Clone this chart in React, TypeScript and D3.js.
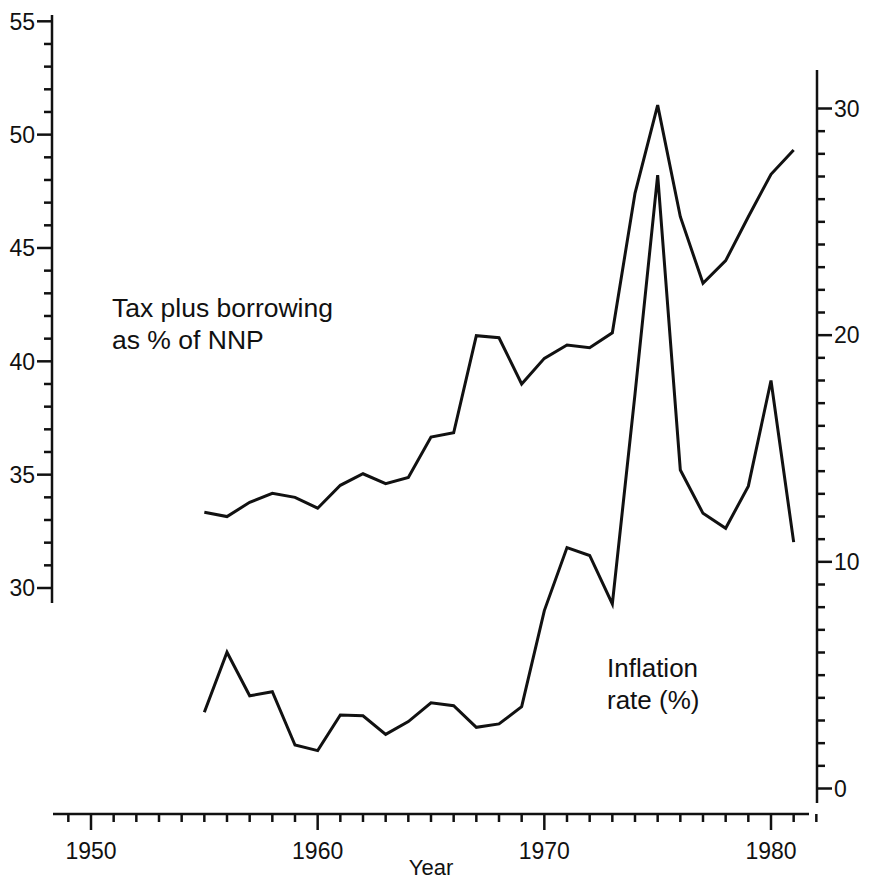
import React from "react";
import * as d3 from "d3";

const years = [1955,1956,1957,1958,1959,1960,1961,1962,1963,1964,1965,1966,1967,1968,1969,1970,1971,1972,1973,1974,1975,1976,1977,1978,1979,1980,1981];
const taxBorrowing = [33.34,33.15,33.78,34.18,34.0,33.52,34.53,35.04,34.6,34.88,36.66,36.85,41.13,41.04,39.0,40.13,40.72,40.6,41.26,47.41,51.3,46.38,43.44,44.44,46.38,48.25,49.32];
const inflation = [3.36,6.01,4.09,4.27,1.92,1.67,3.24,3.21,2.39,2.95,3.78,3.65,2.7,2.85,3.61,7.85,10.63,10.28,8.14,17.4,27.06,14.05,12.14,11.48,13.34,18.0,10.87];
const yearTicks = [1950,1960,1970,1980];
const leftTicks = [30,35,40,45,50,55];
const rightTicks = [0,10,20,30];
const annotationTax = ["Tax plus borrowing", "as % of NNP"];
const annotationInfl = ["Inflation", "rate (%)"];
const xTitle = "Year";

const W = 869, H = 880;
const FONT = "Arial, 'Liberation Sans', Helvetica, sans-serif";
const INK = "#111";

export default function App() {
  const x = d3.scaleLinear().domain([1950, 1980]).range([91, 771]);
  const yL = d3.scaleLinear().domain([30, 55]).range([588, 21.3]);
  const yR = d3.scaleLinear().domain([0, 30]).range([788.5, 108.5]);

  const taxLine = d3.line<number>().x((_, i) => x(years[i])).y((d) => yL(d))(taxBorrowing) || "";
  const inflLine = d3.line<number>().x((_, i) => x(years[i])).y((d) => yR(d))(inflation) || "";

  const xAxisY = 814;
  const leftX = 52;
  const rightX = 817;

  const xMinor = d3.range(1949, 1982 + 1);
  const lMinor = d3.range(30, 56);
  const rMinor = d3.range(0, 31);

  return (
    <svg width={W} height={H} style={{ position: "absolute", left: 0, top: 0, display: "block", background: "#fff" }}>
      {/* bottom axis */}
      <g stroke={INK} strokeWidth={2.5}>
        <line x1={53} x2={809} y1={xAxisY} y2={xAxisY} />
        {xMinor.map((yr) => (
          <line key={"xm" + yr} x1={x(yr)} x2={x(yr)} y1={xAxisY} y2={xAxisY + (yr % 10 === 0 ? 16 : 8)} />
        ))}
      </g>
      {yearTicks.map((t) => (
        <text key={"xt" + t} x={x(t)} y={859} textAnchor="middle" fontFamily={FONT} fontSize={23} fill={INK}>{t}</text>
      ))}
      <text x={431} y={875} textAnchor="middle" fontFamily={FONT} fontSize={22} fill={INK}>{xTitle}</text>

      {/* left axis */}
      <g stroke={INK} strokeWidth={2.5}>
        <line x1={leftX} x2={leftX} y1={15} y2={603} />
        {lMinor.map((v) => (
          <line key={"lm" + v} x1={leftX - (v % 5 === 0 ? 15 : 8)} x2={leftX} y1={yL(v)} y2={yL(v)} />
        ))}
      </g>
      {leftTicks.map((t) => (
        <text key={"lt" + t} x={35} y={yL(t)} dy="0.36em" textAnchor="end" fontFamily={FONT} fontSize={23} fill={INK}>{t}</text>
      ))}

      {/* right axis */}
      <g stroke={INK} strokeWidth={2.5}>
        <line x1={rightX} x2={rightX} y1={70} y2={803} />
        {rMinor.map((v) => (
          <line key={"rm" + v} x1={rightX} x2={rightX + (v % 10 === 0 ? 15 : 8)} y1={yR(v)} y2={yR(v)} />
        ))}
      </g>
      {rightTicks.map((t) => (
        <text key={"rt" + t} x={834} y={yR(t)} dy="0.36em" textAnchor="start" fontFamily={FONT} fontSize={23} fill={INK}>{t}</text>
      ))}

      {/* series */}
      <path d={taxLine} fill="none" stroke={INK} strokeWidth={3} strokeLinejoin="miter" />
      <path d={inflLine} fill="none" stroke={INK} strokeWidth={3} strokeLinejoin="miter" />

      {/* annotations */}
      {annotationTax.map((s, i) => (
        <text key={"at" + i} x={112} y={317 + i * 32} fontFamily={FONT} fontSize={26.5} fill={INK}>{s}</text>
      ))}
      {annotationInfl.map((s, i) => (
        <text key={"ai" + i} x={607} y={677 + i * 32} fontFamily={FONT} fontSize={26} fill={INK}>{s}</text>
      ))}
    </svg>
  );
}
